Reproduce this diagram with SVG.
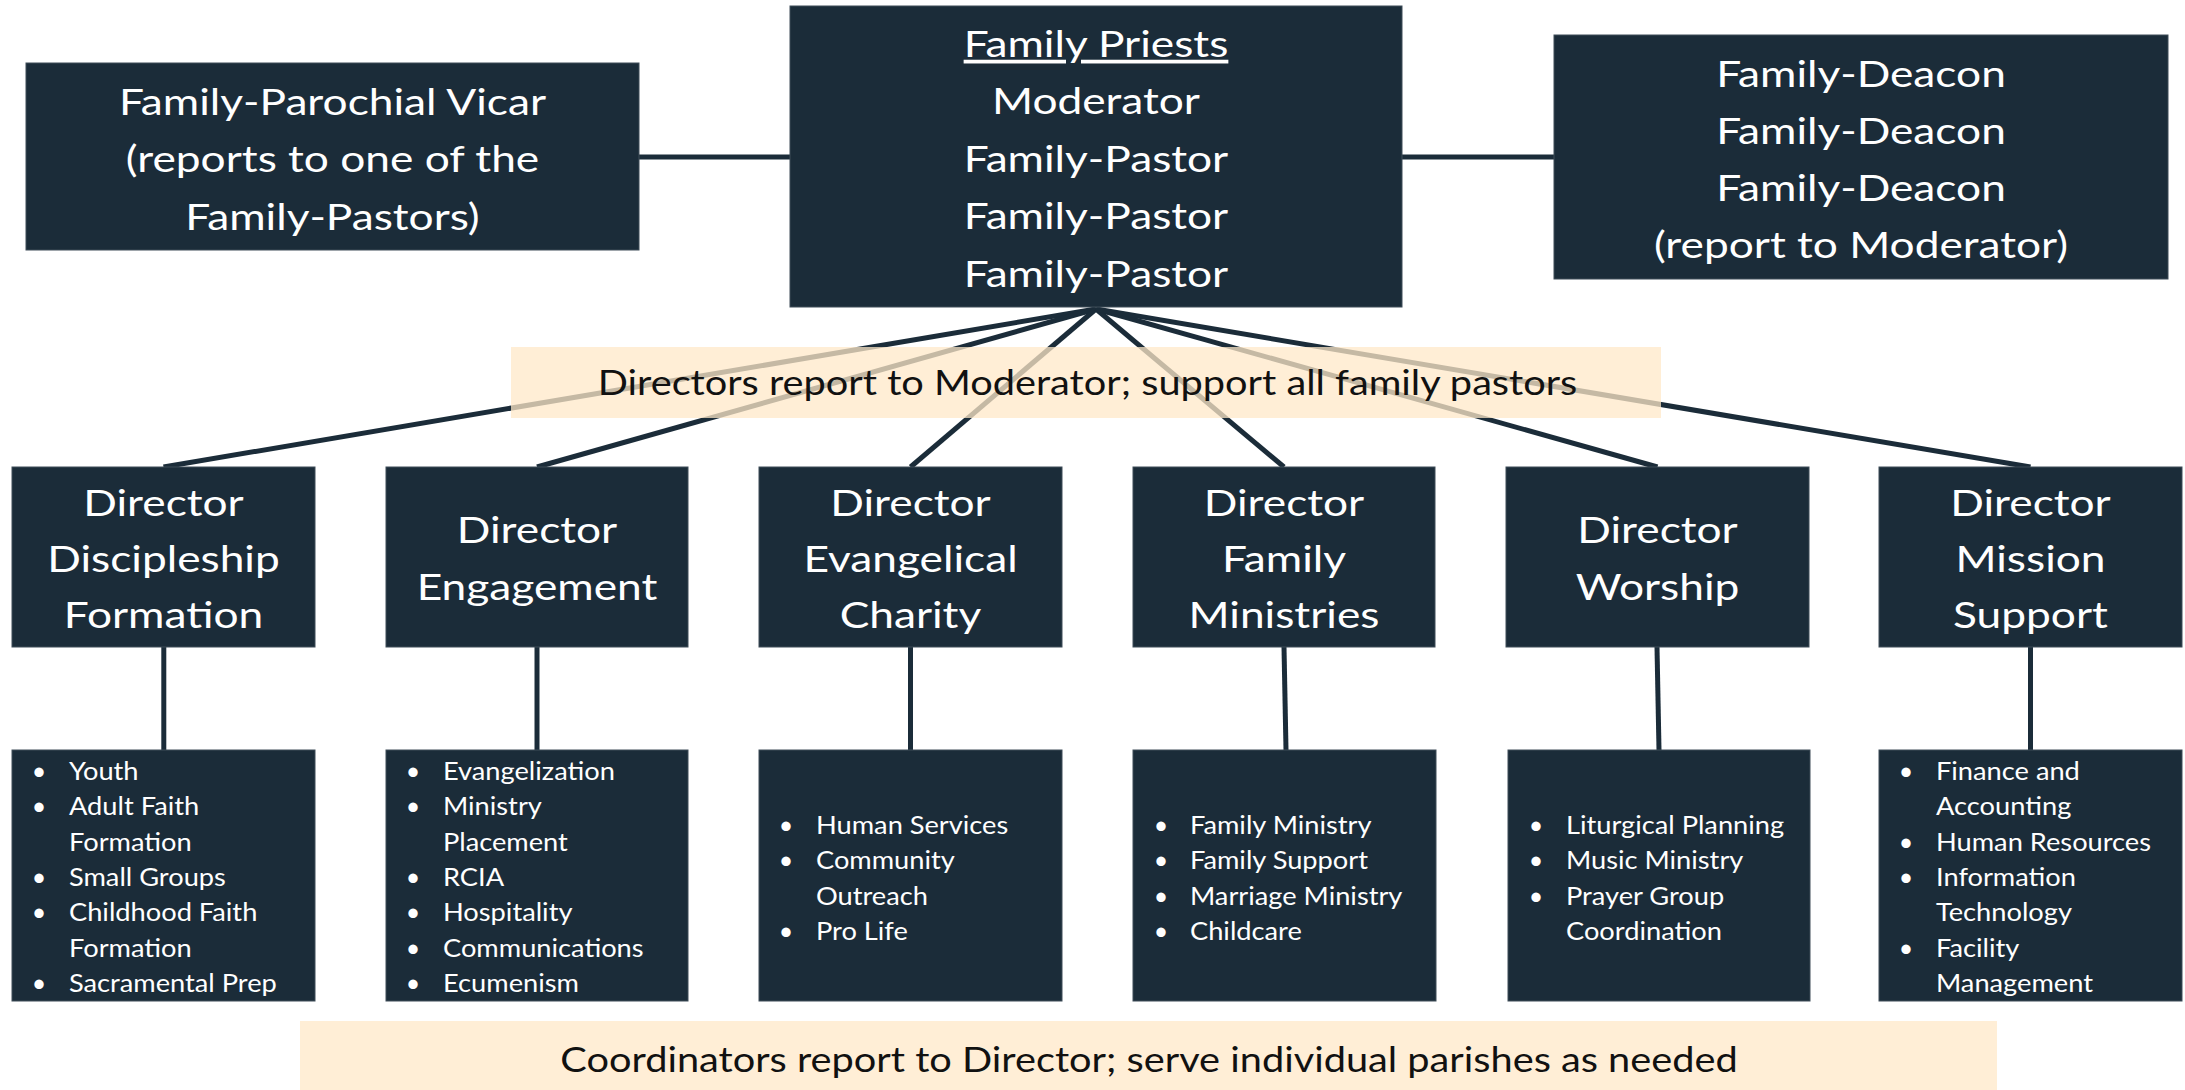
<svg xmlns="http://www.w3.org/2000/svg" width="2185" height="1090" viewBox="0 0 2185 1090">
<style>
.box{fill:#1B2C39;stroke:#3F4D58;stroke-width:1}
.con{stroke:#1B2C39;stroke-width:5;fill:none;stroke-linecap:butt}
.big{font-family:Lato,"Open Sans","Liberation Sans",sans-serif;font-size:37.5px;fill:#FFFFFF;text-anchor:middle;transform-box:fill-box;transform-origin:center;transform:scaleX(1.18)}
.li{font-family:Lato,"Open Sans","Liberation Sans",sans-serif;font-size:25px;fill:#FFFFFF;transform-box:fill-box;transform-origin:left center;transform:scaleX(1.09)}
.bul{font-family:Lato,"Open Sans","Liberation Sans",sans-serif;font-size:25px;fill:#FFFFFF;text-anchor:middle}
.band{fill:#FFE8C8;fill-opacity:0.75}
.bt{font-family:Lato,"Open Sans","Liberation Sans",sans-serif;font-size:35px;fill:#111111;text-anchor:middle;transform-box:fill-box;transform-origin:center;transform:scaleX(1.135)}
</style>
<rect width="2185" height="1090" fill="#FFFFFF"/>
<g id="connectors">
<line class="con" x1="639" y1="157" x2="790" y2="157"/>
<line class="con" x1="1402" y1="157" x2="1554" y2="157"/>
<line class="con" x1="1096" y1="309" x2="163.5" y2="467"/>
<line class="con" x1="1096" y1="309" x2="537" y2="467"/>
<line class="con" x1="1096" y1="309" x2="910.5" y2="467"/>
<line class="con" x1="1096" y1="309" x2="1284" y2="467"/>
<line class="con" x1="1096" y1="309" x2="1657.5" y2="467"/>
<line class="con" x1="1096" y1="309" x2="2030.5" y2="467"/>
<line class="con" x1="163.8" y1="647" x2="163.8" y2="750"/>
<line class="con" x1="537" y1="647" x2="537" y2="750"/>
<line class="con" x1="910.5" y1="647" x2="910.5" y2="750"/>
<line class="con" x1="1284" y1="647" x2="1286" y2="750"/>
<line class="con" x1="1657" y1="647" x2="1659" y2="750"/>
<line class="con" x1="2030.5" y1="647" x2="2030.5" y2="750"/>
</g>
<g id="vicar">
<rect class="box" x="26" y="63" width="613" height="187"/>
<text class="big" x="332.5" y="115">Family-Parochial Vicar</text>
<text class="big" x="332.5" y="172.5">(reports to one of the</text>
<text class="big" x="332.5" y="230">Family-Pastors)</text>
</g>
<g id="priests">
<rect class="box" x="790" y="6" width="612" height="301"/>
<text class="big" x="1096" y="57" text-decoration="underline">Family Priests</text>
<text class="big" x="1096" y="114.5">Moderator</text>
<text class="big" x="1096" y="172">Family-Pastor</text>
<text class="big" x="1096" y="229.5">Family-Pastor</text>
<text class="big" x="1096" y="287">Family-Pastor</text>
</g>
<g id="deacons">
<rect class="box" x="1554" y="35" width="614" height="244"/>
<text class="big" x="1861" y="87">Family-Deacon</text>
<text class="big" x="1861" y="144">Family-Deacon</text>
<text class="big" x="1861" y="201">Family-Deacon</text>
<text class="big" x="1861" y="258">(report to Moderator)</text>
</g>
<g id="banner-directors">
<rect class="band" x="511" y="347" width="1150" height="71"/>
<text class="bt" x="1087.5" y="395">Directors report to Moderator; support all family pastors</text>
</g>
<g id="dir-discipleship">
<rect class="box" x="12" y="467" width="303" height="180"/>
<text class="big" x="163.5" y="515.7">Director</text>
<text class="big" x="163.5" y="572">Discipleship</text>
<text class="big" x="163.5" y="628.3">Formation</text>
</g>
<g id="dir-engagement">
<rect class="box" x="386" y="467" width="302" height="180"/>
<text class="big" x="537" y="543.5">Director</text>
<text class="big" x="537" y="600">Engagement</text>
</g>
<g id="dir-charity">
<rect class="box" x="759" y="467" width="303" height="180"/>
<text class="big" x="910.5" y="515.7">Director</text>
<text class="big" x="910.5" y="572">Evangelical</text>
<text class="big" x="910.5" y="628.3">Charity</text>
</g>
<g id="dir-family">
<rect class="box" x="1133" y="467" width="302" height="180"/>
<text class="big" x="1284" y="515.7">Director</text>
<text class="big" x="1284" y="572">Family</text>
<text class="big" x="1284" y="628.3">Ministries</text>
</g>
<g id="dir-worship">
<rect class="box" x="1506" y="467" width="303" height="180"/>
<text class="big" x="1657.5" y="543.5">Director</text>
<text class="big" x="1657.5" y="600">Worship</text>
</g>
<g id="dir-mission">
<rect class="box" x="1879" y="467" width="303" height="180"/>
<text class="big" x="2030.5" y="515.7">Director</text>
<text class="big" x="2030.5" y="572">Mission</text>
<text class="big" x="2030.5" y="628.3">Support</text>
</g>
<g id="coord-discipleship">
<rect class="box" x="12" y="750" width="303" height="251"/>
<text class="bul" x="39" y="780">•</text><text class="li" x="69" y="780">Youth</text>
<text class="bul" x="39" y="815.3">•</text><text class="li" x="69" y="815.3">Adult Faith</text>
<text class="li" x="69" y="850.6">Formation</text>
<text class="bul" x="39" y="885.9">•</text><text class="li" x="69" y="885.9">Small Groups</text>
<text class="bul" x="39" y="921.2">•</text><text class="li" x="69" y="921.2">Childhood Faith</text>
<text class="li" x="69" y="956.5">Formation</text>
<text class="bul" x="39" y="991.8">•</text><text class="li" x="69" y="991.8">Sacramental Prep</text>
</g>
<g id="coord-engagement">
<rect class="box" x="386" y="750" width="302" height="251"/>
<text class="bul" x="413" y="780">•</text><text class="li" x="443" y="780">Evangelization</text>
<text class="bul" x="413" y="815.3">•</text><text class="li" x="443" y="815.3">Ministry</text>
<text class="li" x="443" y="850.6">Placement</text>
<text class="bul" x="413" y="885.9">•</text><text class="li" x="443" y="885.9">RCIA</text>
<text class="bul" x="413" y="921.2">•</text><text class="li" x="443" y="921.2">Hospitality</text>
<text class="bul" x="413" y="956.5">•</text><text class="li" x="443" y="956.5">Communications</text>
<text class="bul" x="413" y="991.8">•</text><text class="li" x="443" y="991.8">Ecumenism</text>
</g>
<g id="coord-charity">
<rect class="box" x="759" y="750" width="303" height="251"/>
<text class="bul" x="786" y="834">•</text><text class="li" x="816" y="834">Human Services</text>
<text class="bul" x="786" y="869.3">•</text><text class="li" x="816" y="869.3">Community</text>
<text class="li" x="816" y="904.6">Outreach</text>
<text class="bul" x="786" y="939.9">•</text><text class="li" x="816" y="939.9">Pro Life</text>
</g>
<g id="coord-family">
<rect class="box" x="1133" y="750" width="303" height="251"/>
<text class="bul" x="1161" y="834">•</text><text class="li" x="1190" y="834">Family Ministry</text>
<text class="bul" x="1161" y="869.3">•</text><text class="li" x="1190" y="869.3">Family Support</text>
<text class="bul" x="1161" y="904.6">•</text><text class="li" x="1190" y="904.6">Marriage Ministry</text>
<text class="bul" x="1161" y="939.9">•</text><text class="li" x="1190" y="939.9">Childcare</text>
</g>
<g id="coord-worship">
<rect class="box" x="1508" y="750" width="302" height="251"/>
<text class="bul" x="1536" y="834">•</text><text class="li" x="1566" y="834">Liturgical Planning</text>
<text class="bul" x="1536" y="869.3">•</text><text class="li" x="1566" y="869.3">Music Ministry</text>
<text class="bul" x="1536" y="904.6">•</text><text class="li" x="1566" y="904.6">Prayer Group</text>
<text class="li" x="1566" y="939.9">Coordination</text>
</g>
<g id="coord-mission">
<rect class="box" x="1879" y="750" width="303" height="251"/>
<text class="bul" x="1906" y="780">•</text><text class="li" x="1936" y="780">Finance and</text>
<text class="li" x="1936" y="815.3">Accounting</text>
<text class="bul" x="1906" y="850.6">•</text><text class="li" x="1936" y="850.6">Human Resources</text>
<text class="bul" x="1906" y="885.9">•</text><text class="li" x="1936" y="885.9">Information</text>
<text class="li" x="1936" y="921.2">Technology</text>
<text class="bul" x="1906" y="956.5">•</text><text class="li" x="1936" y="956.5">Facility</text>
<text class="li" x="1936" y="991.8">Management</text>
</g>
<g id="banner-coordinators">
<rect class="band" x="300" y="1021" width="1697" height="69"/>
<text class="bt" x="1149" y="1072">Coordinators report to Director; serve individual parishes as needed</text>
</g>
</svg>
